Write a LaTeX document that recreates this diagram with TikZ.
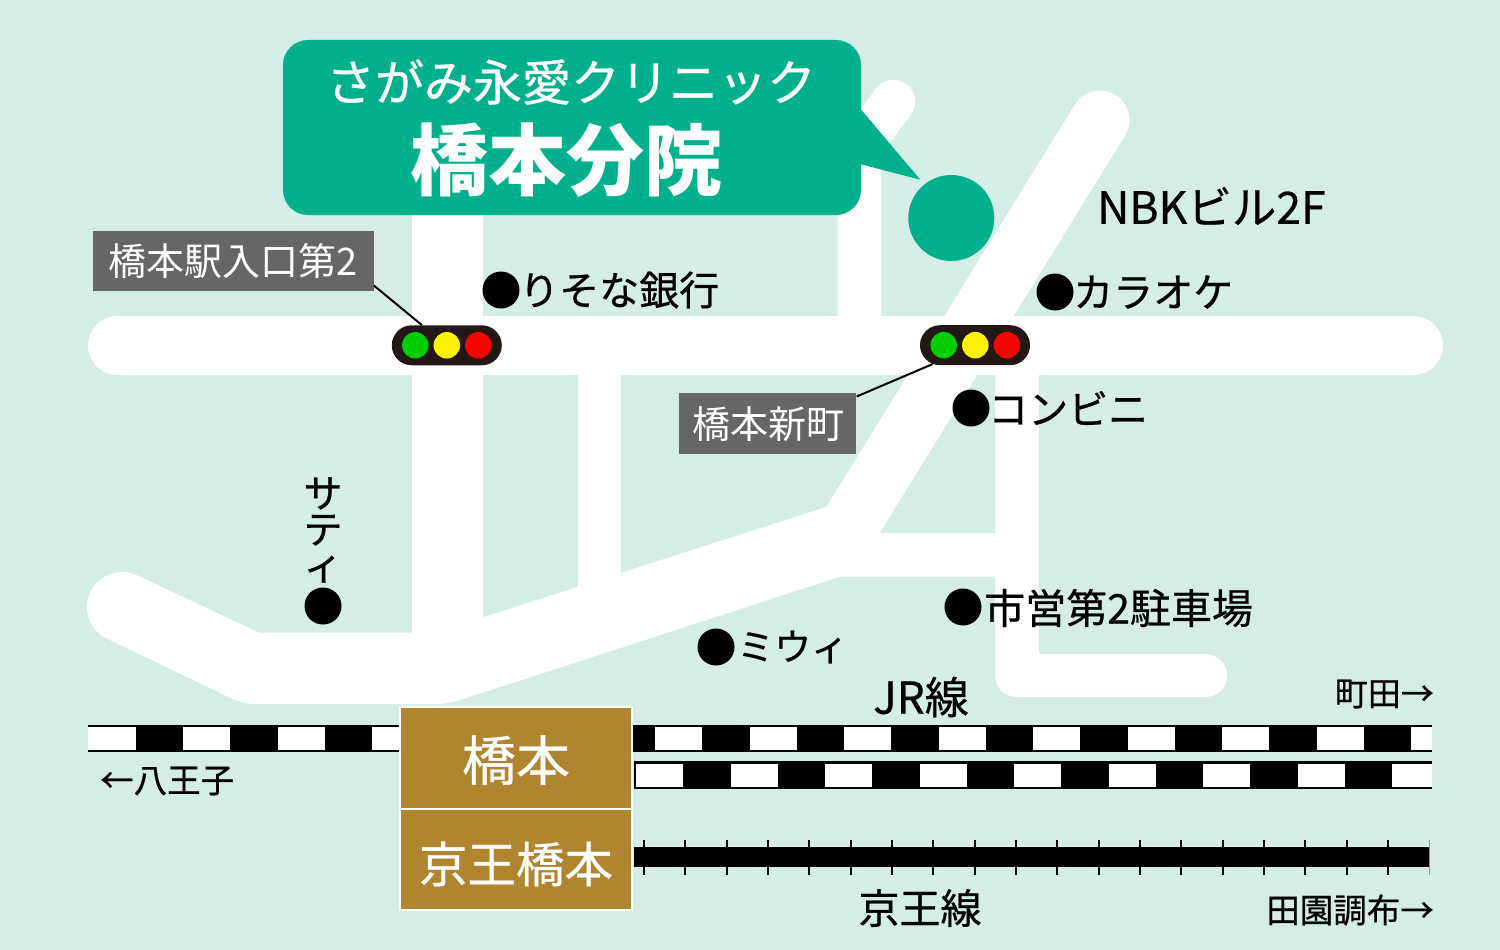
\documentclass[tikz,border=0pt]{standalone}
\usepackage{fontspec}
\usetikzlibrary{shapes.misc}
\newfontfamily\jp[FakeBold=0.6]{Noto Sans CJK JP}
\newfontfamily\jpplain{Noto Sans CJK JP}
\definecolor{mapbg}{RGB}{212,237,230}
\definecolor{clinic}{RGB}{0,176,140}
\definecolor{station}{RGB}{176,133,48}
\definecolor{signbg}{RGB}{102,102,102}
\definecolor{gatebg}{RGB}{35,24,21}
\tikzset{
	txt/.style={inner sep=0pt,font=\jp\fontsize{#1}{#1}\selectfont},
	road/.style={draw=white,line width=#1,line cap=round,line join=round},
	dot/.style={circle,fill=black,inner sep=0pt,minimum size=37pt},
	sign/.style={fill=signbg,text=white,inner sep=0pt,font=\jpplain\fontsize{38}{38}\selectfont},
	gate/.style={rounded rectangle,fill=gatebg,inner sep=0pt,minimum width=110pt,minimum height=40pt},
	lamp/.style={circle,inner sep=0pt,minimum size=26.5pt},
	stn/.style={rectangle,fill=station,draw=white,line width=2pt,text=white,inner sep=0pt,minimum width=232.5pt,minimum height=101.5pt}
}
\begin{document}
\begin{tikzpicture}[x=1pt,y=-1pt]
	\fill[mapbg] (0,0) rectangle (1500,950);

	% roads
	\draw[road=59pt] (117.5,345.5) -- (1413.5,345.5);
	\draw[road=71pt,line cap=butt] (447.5,200) -- (447.5,680);
	\draw[road=43.5pt,line cap=butt] (599.4,345) -- (599.4,600);
	\draw[road=43.5pt] (893.5,101.5) -- (859.5,147) -- (859.5,345);
	\draw[road=59pt] (1100,120) -- (853,520);
	\draw[road=43.5pt] (1017,345) -- (1017,675.7) -- (1205.5,675.7);
	\fill[white] (136.5,575) -- (259,632.7) -- (435,632.7) -- (826.7,506.7) -- (880,533) -- (995,533)
		-- (995,576.7) -- (840,576.7) [rounded corners=12pt] -- (448,704) -- (243,704) [sharp corners]
		-- (107.8,639) -- cycle;
	\fill[white] (122,607) circle (35);

	% clinic
	\fill[clinic] (861,109.5) -- (920.3,179.7) -- (861,164.3) -- cycle;
	\node[fill=clinic,rounded corners=25pt,inner sep=0pt,minimum width=578pt,minimum height=175pt] (clinicbox) at (572,127.5) {};
	\node[txt=49,text=white] (clinicname) at (571,82) {さがみ永愛クリニック};
	\node[text=white,inner sep=0pt,font=\jpplain\bfseries\fontsize{78}{78}\selectfont] (branch) at (566,160) {橋本分院};
	\node[circle,fill=clinic,inner sep=0pt,minimum size=86pt] (clinicdot) at (951.3,218) {};
	\node[txt=44.5,anchor=west] (building) at (1097,206) {NBKビル2F};

	% landmarks
	\node[dot] (risonadot) at (501,290) {};
	\node[txt=40,anchor=west] (risona) at (519,290) {りそな銀行};
	\node[dot] (karaokedot) at (1055,292) {};
	\node[txt=40,anchor=west] (karaoke) at (1073,292) {カラオケ};
	\node[dot] (conbinidot) at (971,408) {};
	\node[txt=40,anchor=west] (conbini) at (988,408) {コンビニ};
	\node[dot] (parkingdot) at (963,607) {};
	\node[txt=41,anchor=west] (parking) at (984,608) {市営第2駐車場};
	\node[dot] (miuidot) at (716,647) {};
	\node[txt=37,anchor=west] (miui) at (737,647) {ミウィ};
	\node[dot] (satydot) at (323,606) {};
	\node[inner sep=0pt,align=center,font=\jp\fontsize{39}{36}\selectfont] (saty) at (323,530) {サ\\テ\\ィ};

	% signals
	\node[gate] (gateA) at (446.8,345.3) {};
	\node[gate] (gateB) at (975,345.2) {};
	\foreach \n/\x/\c in {a/415.3/green!80!black,b/446.8/yellow,c/478.3/red}
		\node[lamp,fill=\c] (lampA\n) at (\x,345.3) {};
	\foreach \n/\x/\c in {a/943.7/green!80!black,b/975.3/yellow,c/1007/red}
		\node[lamp,fill=\c] (lampB\n) at (\x,345.2) {};
	\node[sign,minimum width=281pt,minimum height=60pt] (signA) at (233.2,260.7) {橋本駅入口第2};
	\node[sign,minimum width=177.5pt,minimum height=60.7pt] (signB) at (767.7,423.7) {\hspace{2pt}橋本新町};
	\draw[line width=2pt] (signA.-10) -- (gateA.141);
	\draw[line width=2pt] (signB.17) -- (gateB.204);

	% JR
	\fill[black] (88,724.5) rectangle (400,752);
	\fill[black] (633,724.5) rectangle (1432,752);
	\fill[black] (633.5,761) rectangle (1432,788.7);
	\fill[white] (88,726.7) rectangle (136,750);
	\foreach \x in {183,277.5} \fill[white] (\x,726.7) rectangle +(47.25,23.3);
	\fill[white] (372,726.7) rectangle (400,750);
	\foreach \i in {0,...,7} \fill[white] (655+94.5*\i,726.7) rectangle +(47.25,23.3);
	\fill[white] (1411,726.7) rectangle (1432,750);
	\foreach \i in {0,...,7} \fill[white] (636+94.5*\i,763.7) rectangle +(47.25,23.3);
	\fill[white] (1392,763.7) rectangle (1432,787);

	% Keio
	\fill[black] (634,847.3) rectangle (1429.5,867.3);
	\foreach \i in {0,...,18} \draw[line width=2pt] (644+41.33*\i,840) -- (644+41.33*\i,875);
	\draw[line width=.7pt,black!40] (1429.3,840) -- (1429.3,875);

	% station
	\node[stn] (hashimoto) at (516.2,758) {};
	\node[stn] (keiohashimoto) at (516.2,859.5) {};
	\node[txt=54,text=white] (hashimototext) at (516,760) {橋本};
	\node[txt=48.5,text=white] (keiotext) at (516,864) {京王橋本};

	% lines and directions
	\node[txt=44] (jrline) at (921,697) {JR線};
	\node[txt=41] (keioline) at (920,908) {京王線};
	\node[txt=33,anchor=east] (machida) at (1434,694) {町田→};
	\node[txt=33.5,anchor=west] (hachioji) at (100,781) {←八王子};
	\node[txt=33.5,anchor=east] (denen) at (1434,910) {田園調布→};
\end{tikzpicture}
\end{document}
